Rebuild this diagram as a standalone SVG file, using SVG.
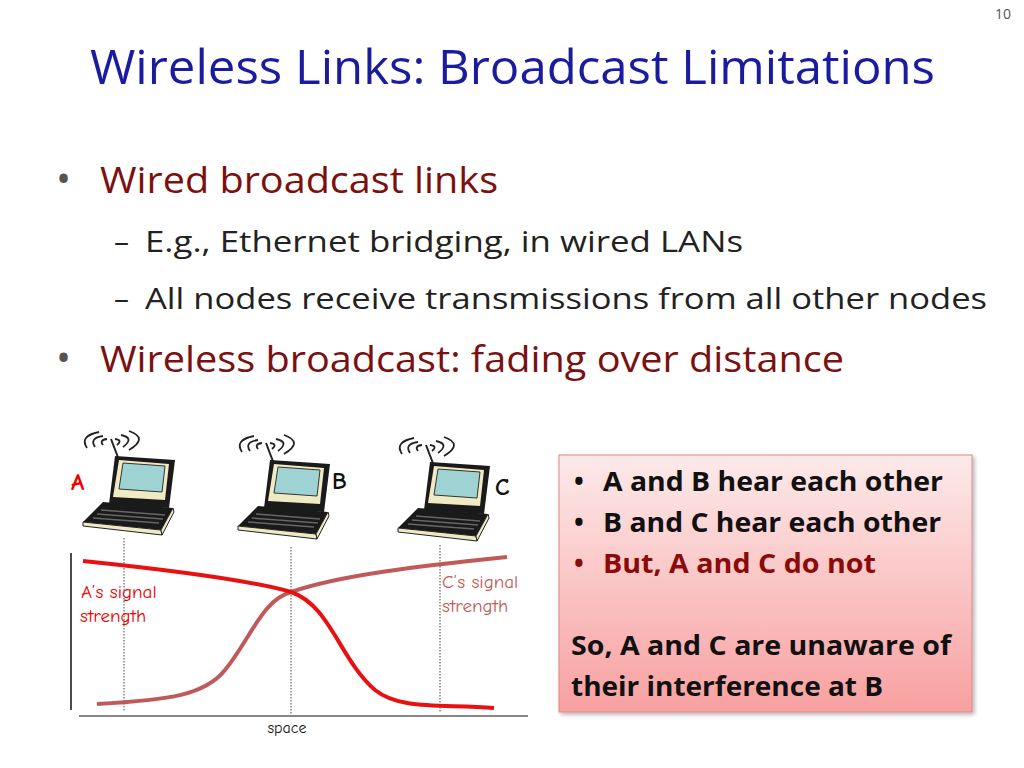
<svg xmlns="http://www.w3.org/2000/svg" width="1024" height="768" viewBox="0 0 1024 768">
<style>
.t{font-family:"Open Sans","Noto Sans",sans-serif}
.c{font-family:"Comic Neue","DejaVu Sans",sans-serif}
.b{font-family:"Open Sans","Noto Sans",sans-serif;font-weight:bold;font-size:26px}
</style>
<defs>
<linearGradient id="pk" x1="0" y1="0" x2="0" y2="1"><stop offset="0" stop-color="#fdeaea"/><stop offset="1" stop-color="#f8a0a0"/></linearGradient>
<filter id="sh" x="-5%" y="-5%" width="115%" height="115%"><feDropShadow dx="2" dy="2" stdDeviation="2" flood-opacity="0.3"/></filter>
<g id="lap">
<g fill="none" stroke="#222" stroke-width="1.8">
<path d="M4,18 Q-4,6 16,2"/><path d="M12,17 Q6,8 20,6"/><path d="M20,15 Q16,10 24,9"/>
<path d="M32,9 Q40,10 34,15"/><path d="M38,5 Q52,8 40,17"/><path d="M46,1 Q66,8 46,20"/>
</g>
<line x1="28" y1="9" x2="36" y2="30" stroke="#222" stroke-width="2"/>
<path d="M32,26 L92,30 L86,78 L26,74 Z" fill="#1a1a1a"/>
<path d="M36,30 L86,34 L82,70 L30,67 Z" fill="#efe9c4"/>
<path d="M40,33 L82,36 L79,62 L36,59 Z" fill="#9fd3d3" stroke="#333"/>
<path d="M20,72 L90,78 L78,100 L0,92 Z" fill="#1a1a1a"/>
<path d="M0,92 L78,100 L79,105 L0,96 Z" fill="#efe9c4" stroke="#222"/>
<path d="M78,100 L90,78 L91,82 L79,105 Z" fill="#efe9c4" stroke="#222"/>
<path d="M18,80 L82,85 M14,84 L80,89 M10,88 L76,93" stroke="#666" stroke-width="1.5"/>
</g>
</defs>
<rect width="1024" height="768" fill="#fff"/>
<text x="1003" y="19" class="t" font-size="14" fill="#555" text-anchor="middle">10</text>
<text x="90" y="84" class="t" font-size="48" fill="#1b1ba0" textLength="845" lengthAdjust="spacingAndGlyphs">Wireless Links: Broadcast Limitations</text>
<g class="t" fill="#7b1010">
<text x="56" y="193" font-size="40" fill="#555">•</text>
<text x="100" y="193" font-size="36" textLength="398" lengthAdjust="spacingAndGlyphs">Wired broadcast links</text>
<text x="114" y="252" font-size="30" fill="#222">–</text>
<text x="145" y="252" font-size="30" fill="#222" textLength="598" lengthAdjust="spacingAndGlyphs">E.g., Ethernet bridging, in wired LANs</text>
<text x="114" y="309" font-size="30" fill="#222">–</text>
<text x="145" y="309" font-size="30" fill="#222" textLength="842" lengthAdjust="spacingAndGlyphs">All nodes receive transmissions from all other nodes</text>
<text x="56" y="372" font-size="40" fill="#555">•</text>
<text x="100" y="372" font-size="36" textLength="744" lengthAdjust="spacingAndGlyphs">Wireless broadcast: fading over distance</text>
</g>
<g id="nodeA"><use href="#lap" x="83" y="430"/><text x="71" y="490" class="c" font-size="24" font-weight="bold" fill="#e00">A</text></g>
<g id="nodeB"><use href="#lap" x="238" y="434"/><text x="332" y="489" class="c" font-size="24" font-weight="bold" fill="#111">B</text></g>
<g id="nodeC"><use href="#lap" x="398" y="436"/><text x="495" y="495" class="c" font-size="24" font-weight="bold" fill="#111">C</text></g>
<g id="graph">
<line x1="71" y1="553" x2="71" y2="710" stroke="#111" stroke-width="1.5"/>
<line x1="79" y1="716" x2="528" y2="716" stroke="#111" stroke-width="1.2"/>
<g stroke="#444" stroke-width="1" stroke-dasharray="1.5,1.5">
<line x1="124" y1="538" x2="124" y2="712"/><line x1="291" y1="547" x2="291" y2="715"/><line x1="440" y1="545" x2="440" y2="712"/>
</g>
<path d="M97,704 C170,700 205,695 225,670 C250,640 262,600 291,592 C340,575 420,566 507,557" fill="none" stroke="#c05a5a" stroke-width="4"/>
<path d="M83,561 C170,570 250,580 291,592 C330,605 340,660 375,690 C400,710 440,704 494,708" fill="none" stroke="#e81010" stroke-width="4"/>
<text class="c" font-size="19" fill="#e00"><tspan x="81" y="598">A’s signal</tspan><tspan x="80" y="622">strength</tspan></text>
<text class="c" font-size="19" fill="#c05a5a"><tspan x="442" y="588">C’s signal</tspan><tspan x="442" y="612">strength</tspan></text>
<text x="287" y="733" class="c" font-size="16" fill="#111" text-anchor="middle">space</text>
</g>
<g id="box">
<rect x="559" y="455" width="413" height="257" fill="url(#pk)" stroke="#d88" filter="url(#sh)"/>
<text class="b" fill="#111"><tspan x="574" y="491">•</tspan><tspan x="603" y="491" textLength="340" lengthAdjust="spacingAndGlyphs">A and B hear each other</tspan></text>
<text class="b" fill="#111"><tspan x="574" y="532">•</tspan><tspan x="603" y="532" textLength="338" lengthAdjust="spacingAndGlyphs">B and C hear each other</tspan></text>
<text class="b" fill="#8b0a0a"><tspan x="574" y="573">•</tspan><tspan x="603" y="573" textLength="273" lengthAdjust="spacingAndGlyphs">But, A and C do not</tspan></text>
<text x="571" y="655" class="b" fill="#111" textLength="380" lengthAdjust="spacingAndGlyphs">So, A and C are unaware of</text>
<text x="571" y="696" class="b" fill="#111" textLength="312" lengthAdjust="spacingAndGlyphs">their interference at B</text>
</g>
</svg>
